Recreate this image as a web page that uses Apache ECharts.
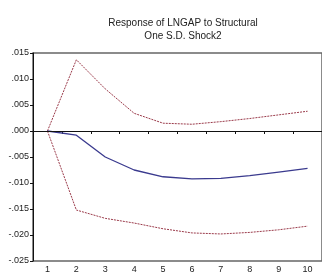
<!DOCTYPE html>
<html><head><meta charset="utf-8">
<script src="https://cdn.jsdelivr.net/npm/echarts@6/dist/echarts.min.js"></script>
<style>html,body{margin:0;padding:0;background:#fff}#c{width:322px;height:277px}</style>
</head><body><div id="c"></div>
<script>
var categories = ['1','2','3','4','5','6','7','8','9','10'];
var response = [0, -0.0008, -0.0050, -0.0075, -0.0088, -0.0092, -0.0091, -0.0086, -0.0079, -0.0072];
var upper = [0, 0.0137, 0.0081, 0.0034, 0.0015, 0.0013, 0.0018, 0.0024, 0.0031, 0.0038];
var lower = [0, -0.0152, -0.0168, -0.0177, -0.0188, -0.0196, -0.0198, -0.0195, -0.0190, -0.0183];
var yTicks = {min: -0.025, max: 0.015, interval: 0.005};

function fmt(v){
  var s = Math.abs(v).toFixed(3).replace(/^0/, '');
  return (v < -1e-9 ? '-' : '') + s;
}
var chart = echarts.init(document.getElementById('c'), null, {renderer:'canvas'});
chart.setOption({
  animation:false,
  title:{text:'Response of LNGAP to Structural\nOne S.D. Shock2', left:178, top:12, textAlign:'center',
    textStyle:{fontFamily:'Liberation Sans, Arial', fontSize:10, fontWeight:'normal', color:'#222', lineHeight:13}},
  grid:{left:33, top:53, right:-2, bottom:16, show:true, borderColor:'#666', borderWidth:1.5, backgroundColor:'transparent'},
  xAxis:{type:'category', data:categories, boundaryGap:true,
    axisLine:{lineStyle:{color:'#111', width:1}},
    axisTick:{show:true, inside:false, length:3, lineStyle:{color:'#111'}},
    axisLabel:{fontFamily:'Liberation Sans, Arial', fontSize:9, color:'#222', margin:4},
    splitLine:{show:false}},
  yAxis:{type:'value', min:yTicks.min, max:yTicks.max, interval:yTicks.interval,
    axisLine:{show:true, lineStyle:{color:'#111', width:1}},
    axisTick:{show:true, inside:false, length:3, lineStyle:{color:'#111'}},
    axisLabel:{fontFamily:'Liberation Sans, Arial', fontSize:9, color:'#222', margin:4, formatter:fmt},
    splitLine:{show:false}},
  series:[
    {type:'line', data:upper, symbol:'none', lineStyle:{color:'#9a3a4a', width:1, type:[2,1]}, z:3},
    {type:'line', data:lower, symbol:'none', lineStyle:{color:'#9a3a4a', width:1, type:[2,1]}, z:3},
    {type:'line', data:response, symbol:'none', lineStyle:{color:'#3a3a8e', width:1.3}, z:4,
      markLine:{silent:true, symbol:'none', label:{show:false}, lineStyle:{color:'#111', type:'solid', width:1},
        data:[{yAxis:0}]}}
  ]
});
</script></body></html>
